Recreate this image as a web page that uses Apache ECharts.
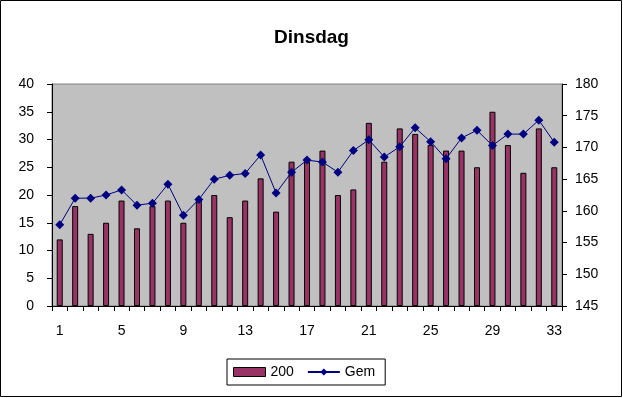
<!DOCTYPE html>
<html><head><meta charset="utf-8">
<script src="https://cdn.jsdelivr.net/npm/echarts@6/dist/echarts.min.js"></script>
<style>html,body{margin:0;padding:0;background:#fff}#c{width:623px;height:398px}</style>
</head><body><div id="c"></div>
<script>
const categories = [];
for (let i = 1; i <= 33; i++) categories.push(String(i));
const bars200 = [12,18,13,15,19,14,18,19,15,19,20,16,19,23,17,26,26,28,20,21,33,26,32,31,29,28,28,25,35,29,24,32,25];
const gem = [157.8,162.0,162.0,162.5,163.3,160.9,161.2,164.2,159.3,161.8,165.0,165.6,165.9,168.8,162.8,166.1,168.0,167.7,166.1,169.5,171.2,168.5,170.1,173.1,170.9,168.2,171.5,172.7,170.3,172.1,172.1,174.3,170.8];
const leftTicks = [0, 40, 5];
const rightTicks = [145, 180, 5];

const font = 'Liberation Sans, Arial, sans-serif';
const chart = echarts.init(document.getElementById('c'));
chart.setOption({
  animation: false,
  backgroundColor: '#fff',
  title: { text: 'Dinsdag', left: 'center', top: 23, textStyle: { fontFamily: font, fontSize: 19, fontWeight: 'bold', color: '#000' } },
  graphic: [
    { type: 'rect', shape: { x: 0.5, y: 0.5, width: 621, height: 396 }, style: { fill: 'none', stroke: '#000', lineWidth: 1 }, z: 100 }
  ],
  grid: { left: 52, right: 61, top: 84, bottom: 92, show: true, backgroundColor: '#C0C0C0', borderColor: '#808080', borderWidth: 1 },
  legend: {
    left: 227, top: 359,
    borderColor: '#000', borderWidth: 1, padding: [6, 10, 6, 6],
    itemGap: 13, itemWidth: 32, itemHeight: 9,
    textStyle: { fontFamily: font, fontSize: 14, color: '#000' },
    data: [
      { name: '200', icon: 'rect', itemStyle: { color: '#993366', borderColor: '#000', borderWidth: 1 } },
      { name: 'Gem' }
    ]
  },
  xAxis: {
    type: 'category', data: categories, boundaryGap: true,
    axisLine: { lineStyle: { color: '#000' } },
    axisTick: { show: true, interval: 0, length: 5, inside: false, lineStyle: { color: '#000' } },
    axisLabel: { interval: 3, fontFamily: font, fontSize: 14, color: '#000', margin: 18 },
    splitLine: { show: false }
  },
  yAxis: [
    { type: 'value', min: leftTicks[0], max: leftTicks[1], interval: leftTicks[2], position: 'left',
      axisLine: { show: true, lineStyle: { color: '#000' } },
      axisTick: { show: true, length: 5, lineStyle: { color: '#000' } },
      axisLabel: { fontFamily: font, fontSize: 14, color: '#000', margin: 18 },
      splitLine: { show: false } },
    { type: 'value', min: rightTicks[0], max: rightTicks[1], interval: rightTicks[2], position: 'right',
      axisLine: { show: true, lineStyle: { color: '#000' } },
      axisTick: { show: true, length: 5, lineStyle: { color: '#000' } },
      axisLabel: { fontFamily: font, fontSize: 14, color: '#000', margin: 13 },
      splitLine: { show: false } }
  ],
  series: [
    { name: '200', type: 'bar', yAxisIndex: 0, data: bars200, barWidth: 6,
      itemStyle: { color: '#993366', borderColor: '#000', borderWidth: 1 } },
    { name: 'Gem', type: 'line', yAxisIndex: 1, data: gem,
      symbol: 'diamond', symbolSize: 9, showAllSymbol: true,
      lineStyle: { color: '#000080', width: 1 },
      itemStyle: { color: '#000080' } }
  ]
});
</script></body></html>
